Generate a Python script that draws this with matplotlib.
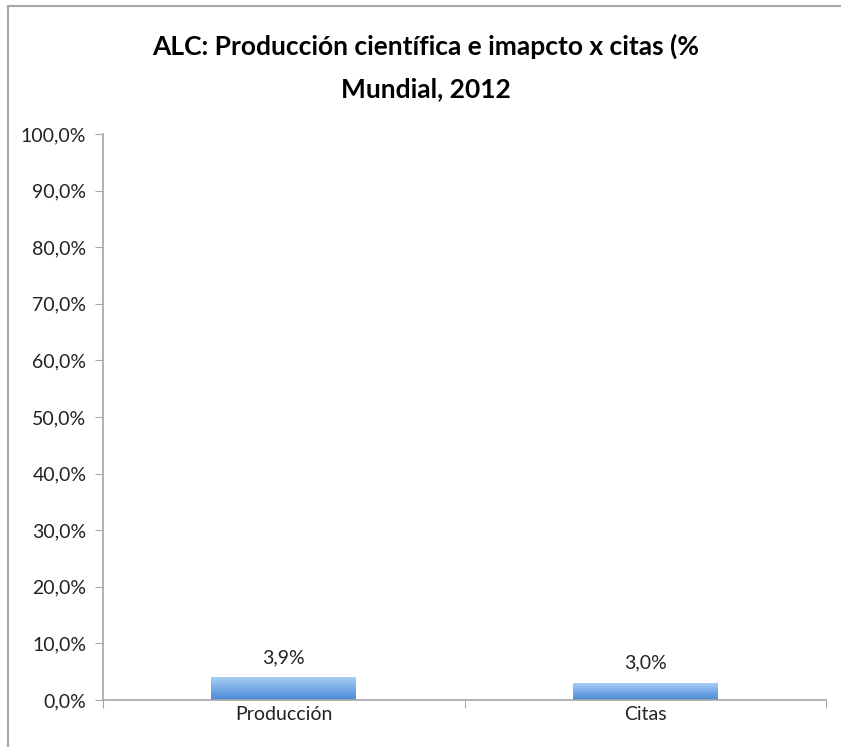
import numpy as np
import matplotlib.pyplot as plt
from matplotlib.colors import LinearSegmentedColormap
from matplotlib.ticker import FuncFormatter

# Values
categories = ["Producción", "Citas"]
values = [3.9, 3.0]
labels = ["3,9%", "3,0%"]
title = "ALC: Producción científica e imapcto x citas (%\nMundial, 2012"

plt.rcParams['font.family'] = ['Lato', 'DejaVu Sans']

W, H = 841, 747
fig = plt.figure(figsize=(W / 100, H / 100), dpi=100)

# outer frame (only top and left visible in the reference)
fig.add_artist(plt.Line2D([8 / W, 8 / W], [0, 1 - 6 / H], color="#a8a8a8", lw=1.5))
fig.add_artist(plt.Line2D([8 / W, 1], [1 - 6 / H, 1 - 6 / H], color="#a8a8a8", lw=1.5))

ax = fig.add_axes([103 / W, 1 - 700 / H, (826 - 103) / W, (700 - 134) / H])

x = np.arange(len(categories))
bar_w = 0.4
cmap = LinearSegmentedColormap.from_list("bar", ["#4a88d6", "#a8cdf6"])
grad = np.linspace(0, 1, 256).reshape(-1, 1)
for xi, v, lab in zip(x, values, labels):
    ax.imshow(grad, extent=[xi - bar_w / 2, xi + bar_w / 2, 0, v], origin="lower",
              cmap=cmap, aspect="auto", zorder=2)
    ax.text(xi, v + 2.0, lab, ha="center", va="bottom", fontsize=14, color="#222222")

ax.set_xlim(-0.5, len(categories) - 0.5)
ax.set_ylim(0, 100)
ax.set_yticks(np.arange(0, 101, 10))
ax.yaxis.set_major_formatter(FuncFormatter(lambda v, p: f"{v:.1f}%".replace(".", ",")))
ax.set_xticks(np.arange(-0.5, len(categories), 1.0))
ax.set_xticklabels([])
ax.set_xticks(x, minor=True)
ax.set_xticklabels(categories, minor=True)
ax.tick_params(axis="x", which="minor", length=0, pad=4, labelsize=14, labelcolor="#222222")
ax.tick_params(axis="x", which="major", length=6, color="#a6a6a6", direction="out")
ax.tick_params(axis="y", length=6, color="#a6a6a6", labelsize=14, pad=6, labelcolor="#222222")

for s in ["top", "right"]:
    ax.spines[s].set_visible(False)
for s in ["left", "bottom"]:
    ax.spines[s].set_color("#a6a6a6")
    ax.spines[s].set_linewidth(1.2)

fig.text(426 / W, 1 - 67 / H, title, ha="center", va="center", fontsize=19,
         fontweight="bold", linespacing=1.9)

fig.savefig("out.png", dpi=100, facecolor="white")
